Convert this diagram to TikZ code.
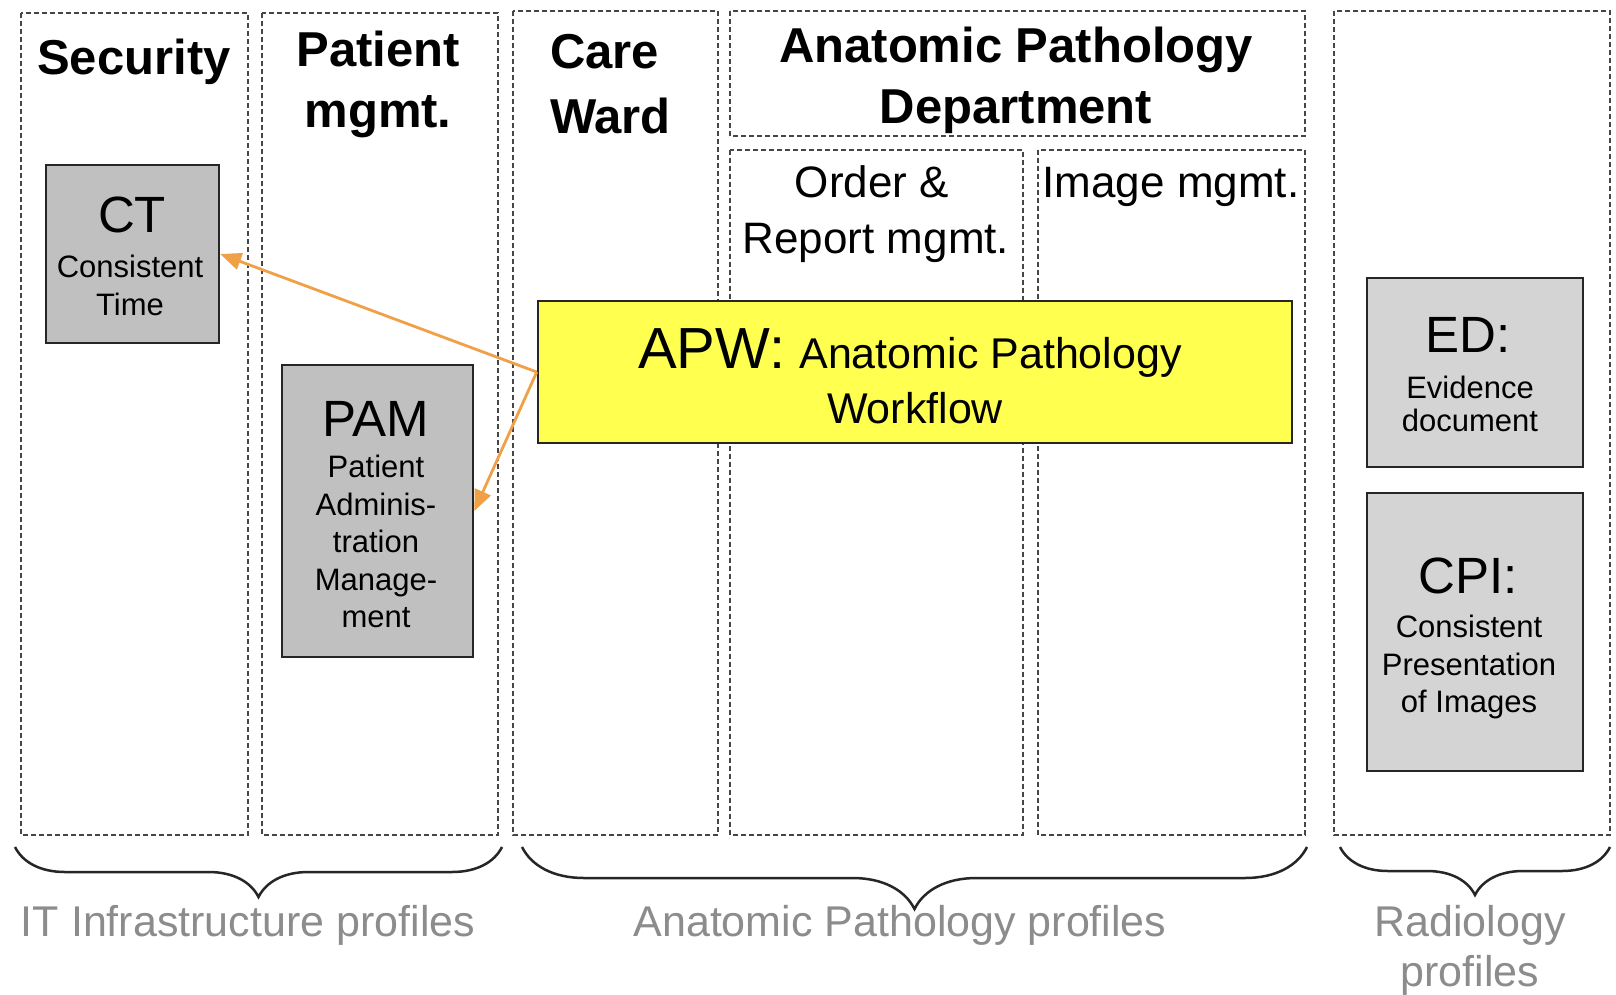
\documentclass[tikz,border=0pt]{standalone}
\usepackage{fontspec}
\setmainfont{Liberation Sans}
\usetikzlibrary{arrows.meta,decorations.pathreplacing}

\definecolor{edgegray}{RGB}{70,70,70}
\definecolor{boxgray}{RGB}{192,192,192}
\definecolor{boxlight}{RGB}{212,212,212}
\definecolor{apwyellow}{RGB}{255,255,80}
\definecolor{linkorange}{RGB}{240,160,70}
\definecolor{notegray}{RGB}{140,140,140}
\definecolor{framedark}{RGB}{38,38,38}

\newcommand{\fsz}[2]{\fontsize{#1}{#2}\selectfont}

\tikzset{
  lane/.style={draw=edgegray, line width=2pt, dash pattern=on 5pt off 3pt},
  profile/.style={rectangle, draw=framedark, line width=2.5pt, inner sep=0pt},
  txt/.style={anchor=base, inner sep=0pt, align=center},
  title/.style={txt, font=\bfseries\fsz{49}{58}},
  subtitle/.style={txt, font=\fsz{44}{56}},
  abbrev/.style={txt, font=\fsz{51}{60}},
  descr/.style={txt, font=\fsz{31}{37.5}},
  note/.style={txt, text=notegray, font=\fsz{43}{50}},
  link/.style={draw=linkorange, line width=2.8pt,
    -{Triangle[length=21pt,width=17pt,fill=linkorange]}},
  bracket/.style={draw=framedark, line width=2.5pt, decorate},
}

\begin{document}
\begin{tikzpicture}[x=1pt,y=-1pt]
  \fill[white] (0,0) rectangle (1616,994);
  \useasboundingbox (0,0) rectangle (1616,994);

  % dashed lanes
  \draw[lane] (21,13) rectangle (248,835);      % Security
  \draw[lane] (262,13) rectangle (498,835);     % Patient mgmt.
  \draw[lane] (513,11) rectangle (718,835);     % Care Ward
  \draw[lane] (730,11) rectangle (1305,136);    % AP department header
  \draw[lane] (730,150) rectangle (1023,835);   % Order & Report mgmt.
  \draw[lane] (1038,150) rectangle (1305,835);  % Image mgmt.
  \draw[lane] (1334,11) rectangle (1610,835);   % Radiology

  % lane titles
  \node[title] (tsec) at (134,74) {Security};
  \node[title] (tpat1) at (378,66) {Patient};
  \node[title] (tpat2) at (378,127) {mgmt.};
  \node[title, anchor=base west] (tcare1) at (550,68) {Care};
  \node[title, anchor=base west] (tcare2) at (550,133) {Ward};
  \node[title] (tapd1) at (1016,62) {Anatomic Pathology};
  \node[title] (tapd2) at (1016,123) {Department};
  \node[subtitle] (tord1) at (872,197) {Order \&};
  \node[subtitle] (tord2) at (876,253) {Report mgmt.};
  \node[subtitle] (timg) at (1171,197) {Image mgmt.};

  % profile boxes
  \node[profile, fill=boxgray, minimum width=173pt, minimum height=178pt] (ct) at (132.5,254) {};
  \node[abbrev] (ctab) at (132,232) {CT};
  \node[descr] (ctd1) at (130,277) {Consistent};
  \node[descr] (ctd2) at (130,315) {Time};

  \node[profile, fill=boxgray, minimum width=191pt, minimum height=292pt] (pam) at (377.5,511) {};
  \node[abbrev] (pamab) at (376,436) {PAM};
  \node[descr] (pamd1) at (376,477) {Patient};
  \node[descr] (pamd2) at (376,515) {Adminis-};
  \node[descr] (pamd3) at (376,552) {tration};
  \node[descr] (pamd4) at (376,590) {Manage-};
  \node[descr] (pamd5) at (376,627) {ment};

  \node[profile, fill=apwyellow, minimum width=754pt, minimum height=142pt] (apw) at (915,372) {};
  \node[txt] (apwab) at (910,368) {{\fsz{58}{66}APW:}\hspace{14pt}{\fsz{43}{50}Anatomic Pathology}};
  \node[txt, font=\fsz{43}{50}] (apwd) at (915,423) {Workflow};

  \node[profile, fill=boxlight, minimum width=216pt, minimum height=189pt] (ed) at (1475,372.5) {};
  \node[abbrev] (edab) at (1468,352) {ED:};
  \node[descr] (edd1) at (1470,398) {Evidence};
  \node[descr] (edd2) at (1470,431) {document};

  \node[profile, fill=boxlight, minimum width=216pt, minimum height=278pt] (cpi) at (1475,632) {};
  \node[abbrev] (cpiab) at (1468,593) {CPI:};
  \node[descr] (cpid1) at (1469,637) {Consistent};
  \node[descr] (cpid2) at (1469,675) {Presentation};
  \node[descr] (cpid3) at (1469,712) {of Images};

  % dependencies of APW
  \draw[link] (apw.west) -- (ct.east);
  \draw[link] (apw.west) -- (pam.east);

  % grouping braces
  \coordinate (b1l) at (15,847);
  \coordinate (b1r) at (502,847);
  \coordinate (b2l) at (522,847);
  \coordinate (b2r) at (1307,847);
  \coordinate (b3l) at (1340,847);
  \coordinate (b3r) at (1610,847);
  \draw[bracket, decoration={brace, mirror, amplitude=50pt}] (b1l) -- (b1r);
  \draw[bracket, decoration={brace, mirror, amplitude=62pt}] (b2l) -- (b2r);
  \draw[bracket, decoration={brace, mirror, amplitude=48pt}] (b3l) -- (b3r);

  % group labels
  \node[note] (nit) at (248,936) {IT Infrastructure profiles};
  \node[note] (nap) at (900,936) {Anatomic Pathology profiles};
  \node[note] (nrad1) at (1470,936) {Radiology};
  \node[note] (nrad2) at (1470,986) {profiles};
\end{tikzpicture}
\end{document}
